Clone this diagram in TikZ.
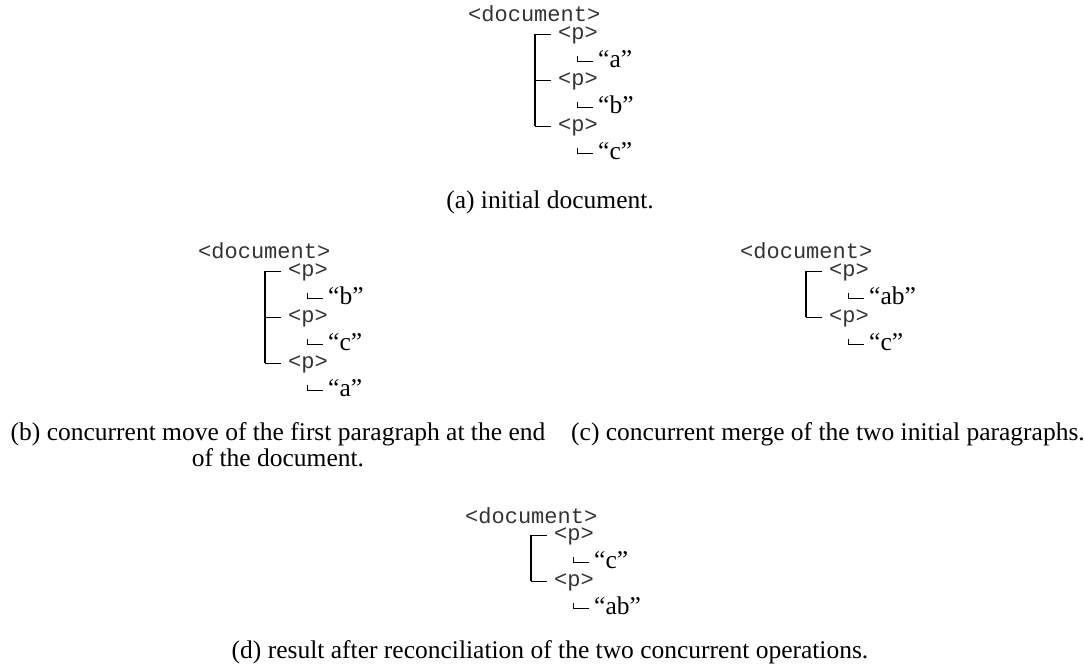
\documentclass[tikz,border=0pt]{standalone}
\usepackage{fontspec}
\setmainfont{Liberation Serif}
\setmonofont{Liberation Mono}
\begin{document}
\begin{tikzpicture}[x=1pt,y=-1pt]
\tikzset{
  captxt/.style={font=\fontsize{25.5}{30}\selectfont, inner sep=0pt, anchor=base},
  tagtxt/.style={font=\fontsize{22}{26}\ttfamily, inner sep=0pt, anchor=base west, text=black!80},
  ptag/.style={tagtxt, inner xsep=7pt, text height=10.5pt, text depth=0pt},
  leaftxt/.style={font=\fontsize{25.5}{30}\selectfont, inner ysep=0pt, inner xsep=5pt, text height=11pt, text depth=0pt, anchor=base west},
  treeline/.style={line width=1.1pt},
  cornerline/.style={line width=0.8pt},
}
\useasboundingbox (0,0) rectangle (1084,667);

% ---------- (a) ----------
\node[tagtxt] (a-doc) at (468,21) {<document>};
\coordinate (a-s) at (535,0);
\node[ptag] (a-p1) at (551,39.5) {<p>};
\node[ptag] (a-p2) at (551,85.5) {<p>};
\node[ptag] (a-p3) at (551,131.5) {<p>};
\node[leaftxt] (a-l1) at (593,67) {“a”};
\node[leaftxt] (a-l2) at (593,113) {“b”};
\node[leaftxt] (a-l3) at (593,159) {“c”};
\draw[treeline] (a-p1.west -| a-s) -- (a-p3.west -| a-s);
\foreach \i in {1,2,3} {
  \draw[treeline] (a-p\i.west -| a-s) -- (a-p\i.west);
  \draw[cornerline] (a-l\i.west) -- ++(-16,0) -- ++(0,-6);
}
\node[captxt] (a-cap) at (550,208) {(a) initial document.};

% ---------- (b) ----------
\node[tagtxt] (b-doc) at (198,258) {<document>};
\coordinate (b-s) at (265,0);
\node[ptag] (b-p1) at (281,276.5) {<p>};
\node[ptag] (b-p2) at (281,322.5) {<p>};
\node[ptag] (b-p3) at (281,368.5) {<p>};
\node[leaftxt] (b-l1) at (323,304) {“b”};
\node[leaftxt] (b-l2) at (323,350) {“c”};
\node[leaftxt] (b-l3) at (323,396) {“a”};
\draw[treeline] (b-p1.west -| b-s) -- (b-p3.west -| b-s);
\foreach \i in {1,2,3} {
  \draw[treeline] (b-p\i.west -| b-s) -- (b-p\i.west);
  \draw[cornerline] (b-l\i.west) -- ++(-16,0) -- ++(0,-6);
}
\node[captxt] (b-cap1) at (278,440) {(b) concurrent move of the first paragraph at the end};
\node[captxt] (b-cap2) at (278,466) {of the document.};

% ---------- (c) ----------
\node[tagtxt] (c-doc) at (740,258) {<document>};
\coordinate (c-s) at (806,0);
\node[ptag] (c-p1) at (822,276.5) {<p>};
\node[ptag] (c-p2) at (822,322.5) {<p>};
\node[leaftxt] (c-l1) at (864,304) {“ab”};
\node[leaftxt] (c-l2) at (864,350) {“c”};
\draw[treeline] (c-p1.west -| c-s) -- (c-p2.west -| c-s);
\foreach \i in {1,2} {
  \draw[treeline] (c-p\i.west -| c-s) -- (c-p\i.west);
  \draw[cornerline] (c-l\i.west) -- ++(-16,0) -- ++(0,-6);
}
\node[captxt] (c-cap) at (828,440) {(c) concurrent merge of the two initial paragraphs.};

% ---------- (d) ----------
\node[tagtxt] (d-doc) at (465,523) {<document>};
\coordinate (d-s) at (531,0);
\node[ptag] (d-p1) at (547,540.5) {<p>};
\node[ptag] (d-p2) at (547,586.5) {<p>};
\node[leaftxt] (d-l1) at (589,568) {“c”};
\node[leaftxt] (d-l2) at (589,614) {“ab”};
\draw[treeline] (d-p1.west -| d-s) -- (d-p2.west -| d-s);
\foreach \i in {1,2} {
  \draw[treeline] (d-p\i.west -| d-s) -- (d-p\i.west);
  \draw[cornerline] (d-l\i.west) -- ++(-16,0) -- ++(0,-6);
}
\node[captxt] (d-cap) at (550,658) {(d) result after reconciliation of the two concurrent operations.};
\end{tikzpicture}
\end{document}
